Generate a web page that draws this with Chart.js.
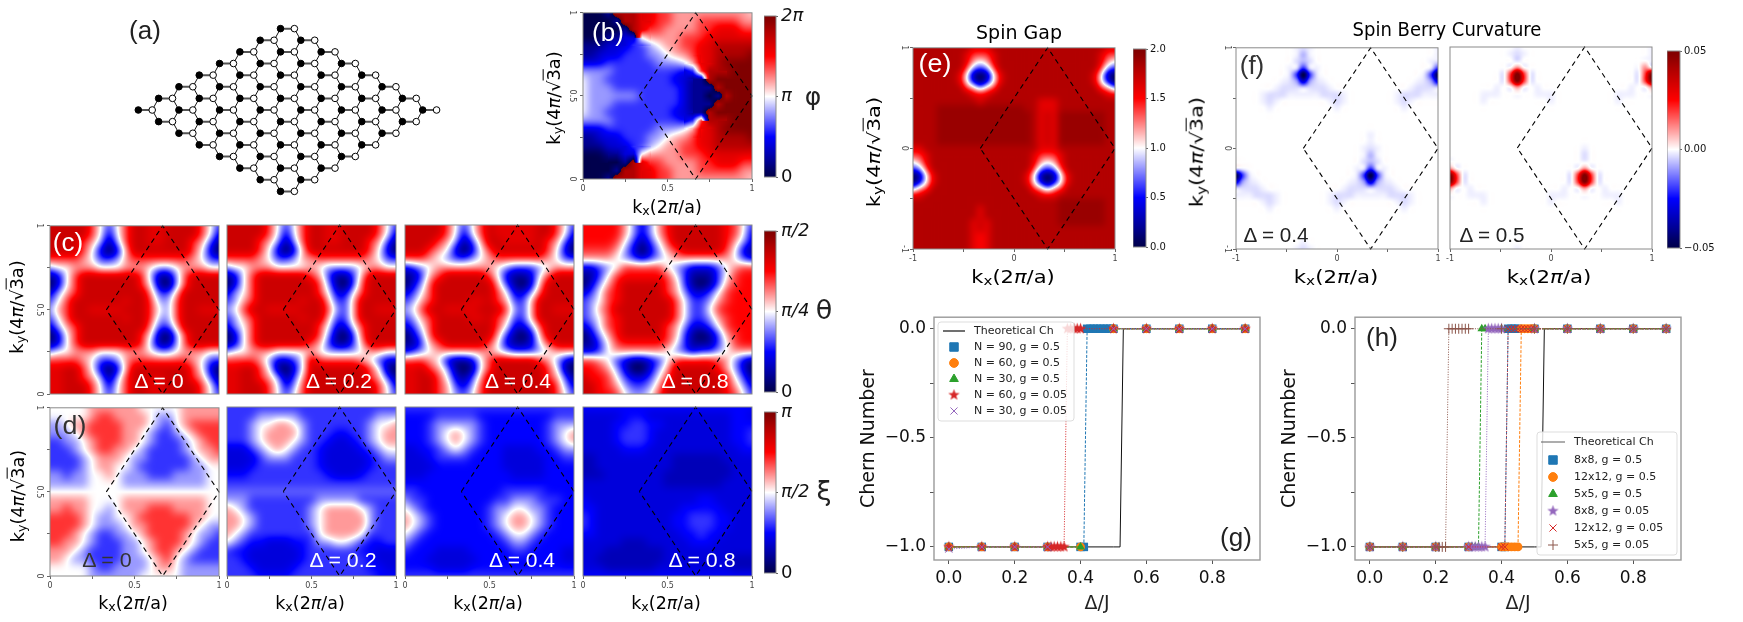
<!DOCTYPE html>
<html><head><meta charset="utf-8">
<script src="https://cdn.jsdelivr.net/npm/chart.js@4"></script>
<style>
html,body{margin:0;background:#fff}
#page{position:relative;width:1743px;height:622px;overflow:hidden;background:#fff}
canvas{position:absolute}
.t{position:absolute;white-space:nowrap;line-height:1.1;font-family:'DejaVu Sans'}
.t sub{font-size:72%;vertical-align:-.22em;line-height:0}
.t i{font-style:italic}
.o{text-decoration:overline}
</style></head><body><div id="page"></div>
<script>
// ---------- DATA: heat maps, rows run from the top of each panel; 0..9,a = colour level, A..J = half levels, . - ~ = near white
const gridB=["00019998877666666666F","000019988776667777766","000001987766667788877","000112256666777888888","111222334566778899999","11222333445667889999a","22233333344456889aaaa","444433333333237999aaa","5443333333322119aaaaa","54443333333321119aaaa","544444433333211019aaa","54443333333321119aaaa","5443333333322119aaaaa","444433333333237999aaa","22233333344456889aaaa","11222333445667889999a","111222334566778899999","000112256666777888888","000001987766667788877","000019988776667777766","00019998877666666666F"];
const gridC0=["IIIII75357II88IIII753","IIIII75257II88IIII752","IIII764147II88III7631","IIII752026IIIIIII7520","777765334677777776533","455666555666544566655","1257IIIIIII741147IIII","0257IIIIIII751047IIII","2467IIIIIIII6336IIIII","357IIIIII8II7447IIIII","467II8888III7547II888","357IIIIII8II7447IIIII","2467IIIIIIII6336IIIII","0257IIIIIII751047IIII","1257IIIIIII741147IIII","455666555666544566655","777765334677777776533","88II752026IIIIIII7520","88II764147II88III7631","88III75257II88IIII752","88III75357II88IIII753"];
const gridC1=["IIIII75357II88IIII753","IIIII75257II88IIII752","IIII764147II88III7631","IIII752026IIIIIII7520","777765334667777776533","455666555565444456655","1257IIIIII7631136IIII","0257IIIIIII741037IIII","2457IIIIIII752257IIII","3467IIIII8II6336IIIII","457II8888III7436II888","3467IIIII8II6336IIIII","2457IIIIIII752257IIII","0257IIIIIII741037IIII","1257IIIIII7631136IIII","455666555565444456655","7777642235I7777765322","88II751025IIIIIII7510","88II764136IIIIIII7631","88III75247IIIIIIII752","88III75357IIIIIIII753"];
const gridC2=["IIIII75357I88888II753","IIIII75257I88888II752","IIII764136II8888I7631","III76520257IIIIII7520","777654334567777776533","234566666665433345666","11367IIIII75211257III","0247IIIIIII631026IIII","2357IIIIIII752247IIII","3467IIII88I76336IIIII","457II8888III7436II888","3467IIII88I76336IIIII","2357IIIIIII752247IIII","0247IIIIIII631026IIII","11367IIIII75211257III","234566666665433345666","77765211257IIIII76421","88I76410157IIIIII7510","88II752136IIIIIII7631","88II763247IIIIIIII742","88II764357IIIIIIII753"];
const gridC3=["HHHHH64246HIIIIIIH753","HHHHH64246HIIIIIIH752","HHHH7531357IIIIIIH642","777764202467IIIII7521","666654323456666666532","223457777754322235677","11357HHHHH753111357HH","0246HIIIII763101367HH","2357HIIIII76422357HHH","3457HIIIIII7533467HHH","3467IIIIIII753357HHHH","3457HIIIIII7533467HHH","2357HIIIII76422357HHH","0246HIIIII763101367HH","11357HHHHH753111357HH","223566666654323345666","776532112357HHHH76421","HH764200246IIIIIH6420","IHH75322357IIIIIIH531","IIH7643346IIIIIIIH642","IIHH754457IIIIIIIH753"];
const gridD0=["555556666665555566666","555556776666544566666","445667777666543567777","444567777665433456777","334456777665433345677","333456776654333345667","333345666544333334566","333345665543333334455","443445565444333444455","444445555444444444455","555555555555555555555","666665555666666666655","667665545666777666655","777765445567777776655","777765444566777776544","777654334456777765443","776654333445677765433","666543333445677654333","665443333444567543333","555554334444566544444","555554444445555544444"];
const gridD1=["333333333333333333333","333344444333333333444","333455665433333334556","3334566664333CC334566","333456665433C22C34566","22234565433C2222C3455","22223444333C22222C344","222C3333333C22222C333","CCC333333333C222C3333","333333333333333333333","DDDDDDDDDDDDDDDDDDDDD","444333333334444433333","654333333345666654333","665433333345666664333","665433333345666664333","654333333335666653333","543CC222CC3445543CC33","3CC222222C333333CC222","33C222222C3333333C222","333C2222C33333333CC22","3333CCCC3333333333CCC"];
const gridD2=["333333333333333333333","CCCC33333CCCCCCCCC333","CCC3444443CCCCCCC3444","CCC3456543CCCCCCC3456","CCC3456543CCCCCCC3456","22CC34543CCC2222CC344","222C3333CCCC22222CC33","2222CCCCCCCC22222CCCC","222CCCCCCCCCC2222CCCC","CCCCCCCCCCCCCCCCCCCCC","33CCCCCCCCCC33333CCCC","433CCCCCCCC33444333CC","543CCCCCCC34455443CCC","6543CCCCCC34566543CCC","6543CCCCCC34566543CCC","543CCCCCCCC345543CCCC","43CCCCCCCCCC3443CCCCC","3CCC2222CCCCC33CCCC22","CCC222222CCCCCCCCCC22","CCCC2222CCCCCCCCCCCCC","333333333333333333333"];
const gridD3=["CCCCCCCCCCCCCCCCCCCCC","22222CCC2222222222CC2","2222CC33CC22222222CCC","2222C333C222222222CC3","2222C333C222222222CC3","22222CCC22222222222CC","BB222222222BBBBBB2222","BB222222222BBBBBBB222","BBB2222222BBBBBBBB222","2222222222BBBBBBB2222","222222222222222222222","C2222222222222CC22222","CC2222222222CCCCC2222","3C222222222CC333CC222","3C222222222CC333CC222","CC2222222222CC3CC2222","22222BBB22222CCC22222","222BBBBBBB22222222222","22BBBBBBBB22222222BBB","222BBBBBB222222222BBB","CCCCCCCCCCCCCCCCCCCCC"];
const gridE=[
"999999999"+"888"+"99999999999999999"+"88",
"99999999"+"87778"+"999999999999999"+"877",
"99999999"+"86568"+"999999999999999"+"865",
"99999999"+"74347"+"999999999999999"+"743",
"9999999"+"8510158"+"9999999999999"+"8510",
"9999999"+"8520258"+"9999999999999"+"8520",
"99999999"+"76467"+"999999999999999"+"764",
"999999999"+"888"+"99999999999999999"+"88",
"9999999999"+"8"+"99999999"+"888"+"999999999",
"9999"+"JJJJJJJJJJJJJ"+"99"+"888"+"999999999",
"9999"+"JJJJJJJJJJJJJJ"+"9"+"8I8"+"JJJJJJJ"+"99",
"9999"+"JJJJJJJJJJJJJJ"+"9"+"8I8"+"JJJJJJJ"+"99",
"9999"+"JJJJJJJJJJJJJJ"+"9"+"8I8"+"JJJJJJJ"+"99",
"9999"+"JJJJJJJJJJJJJJ"+"9"+"8I8"+"JJJJJJJ"+"99",
"9999"+"JJJJJJJJJJJJJJ"+"9"+"8I8"+"JJJJJJJ"+"99",
"88"+"99999999999999999"+"888"+"999999999",
"778"+"999999999999999"+"87778"+"99999999",
"568"+"999999999999999"+"86568"+"99999999",
"347"+"999999999999999"+"74347"+"99999999",
"0158"+"9999999999999"+"8510158"+"9999999",
"0258"+"9999999999999"+"8520258"+"9999999",
"467"+"999999999999999"+"76467"+"99999999",
"88"+"99999999999999999"+"888"+"999999999",
"9999999999999999999999"+"JJJJJJJ"+"99",
"999999999"+"989"+"9999999999"+"JJJJJJJ"+"99",
"999999999"+"989"+"9999999999"+"JJJJJJJ"+"99",
"999999999"+"8I8"+"9999999999"+"JJJJJJJ"+"99",
"999999999"+"8I8"+"9999999999999999999",
"999999999"+"8H8"+"9999999999999999999",
"999999999"+"8H8"+"9999999999999999999",
"999999999"+"8H8"+"9999999999999999999"];
const gridF0=[
"........."+"-~-"+".................."+"-",
"........."+"-=-"+".................."+"-",
"........."+"~=~"+"................."+"-~",
"........"+"-~3~-"+"................"+"~3",
"........"+"~303~"+"..............."+"~30",
"......."+"-~424~-"+"............."+"-~42",
"......"+"-~~~~~~~-"+"..........."+"-~~~~",
"...."+"-~~~-----~~~-"+"......."+"-~~~---",
"...."+"-~-"+"......."+"-~-"+"......."+"-~-"+"....",
"....."+"-"+"........."+"-"+"........."+"-"+".....",
"...............................",
"...............................",
"...............................",
"...................."+"-"+"..........",
"...................."+"-"+"..........",
"..................."+"-~-"+".........",
"..................."+"-=-"+".........",
"..................."+"~=~"+".........",
"~-"+"................"+"-~3~-"+"........",
"03~"+"..............."+"~303~"+"........",
"24~-"+"............."+"-~424~-"+".......",
"~~~~-"+"..........."+"-~~~~~~~-"+"......",
"---~~~-"+"......."+"-~~~-----~~~-"+"....",
"...."+"-~-"+"......."+"-~-"+"......."+"-~-"+"....",
"....."+"-"+"........."+"-"+"........."+"-"+".....",
"...............................",
"...............................",
"...............................",
"...............................",
".........."+"-"+"....................",
"........."+"-~-"+"..................."];
const gridF1=[
".........."+"-"+"..................."+"-",
"........."+"-~-"+".................."+"-",
".........."+"~"+"...................-",
"........."+"565"+"................."+"65",
"........"+"-7a7-"+"..............."+"-7a",
"........"+"-7a7-"+"..............."+"-7a",
"......."+"-"+".565."+"-"+"............."+"-.56",
"....."+"---"+"....."+"---"+"........."+"---"+"...",
"....."+"-"+"........."+"-"+"........."+"-"+".....",
"...............................",
"...............................",
"...............................",
"...............................",
"...............................",
"...............................",
"...................."+"-"+"..........",
"...................."+"~"+"..........",
"...................."+"-"+"..........",
"65"+"................."+"565"+".........",
"a7-"+"..............."+"-7a7-"+"........",
"a7-"+"..............."+"-7a7-"+"........",
"65."+"-"+"............."+"-.565.-"+".......",
"..."+"---"+"........."+"---"+"....."+"---"+".....",
"....."+"-"+"........."+"-"+"........."+"-"+".....",
"...............................",
"...............................",
"...............................",
"...............................",
"...............................",
"...............................",
".........."+"-"+"...................."];
const cbarLevels=["aa","99","88","77","66","55","44","33","22","11","00"];
// rhombus corners (Brillouin zone)
const bzUnitX=[1/3,2/3,1,2/3,1/3], bzUnitY=[0.5,1,0.5,0,0.5];
const bzWideX=[-1/3,1/3,1,1/3,-1/3], bzWideY=[0,1,0,-1,0];
// tick values and labels
const unitTicks=[0,.25,.5,.75,1], unitLabels=['0','','0.5','','1'];
const wideTicks=[-1,-.5,0,.5,1], wideLabels=['-1','','0','','1'];
const phiTicks=[0,1,2], phiLabels=['0','π','2π'];
const thetaTicks=[0,1,2], thetaLabels=['0','π/4','π/2'];
const xiTicks=[0,1,2], xiLabels=['0','π/2','π'];
const gapTicks=[0,.5,1,1.5,2], gapLabels=['0.0','0.5','1.0','1.5','2.0'];
const berryTicks=[-.05,0,.05], berryLabels=['−0.05','0.00','0.05'];
const chernXTicks=[0,.2,.4,.6,.8], chernXLabels=['0.0','0.2','0.4','0.6','0.8'];
const chernYTicks=[-1,-.75,-.5,-.25,0], chernYLabels=['−1.0','','−0.5','','0.0'];
// Chern number series (null = no line across the gap)
const theoX=[0,.1,.2,.3,.4,.5,.52,.53,.6,.7,.8,.9], theoY=[-1,-1,-1,-1,-1,-1,-1,0,0,0,0,0];
const gBlueX=[0,.1,.2,.3,.4,.41,.42,.43,.44,.45,.46,.47,.48,.49,.5,.6,.7,.8,.9], gBlueY=[-1,-1,-1,-1,-1,-1,0,0,0,0,0,0,0,0,0,0,0,0,0];
const gOrangeX=[0,.1,.2,.3,.4,.45,.5,.6,.7,.8,.9], gOrangeY=[-1,-1,-1,-1,-1,null,0,0,0,0,0];
const gGreenX=[0,.1,.2,.3,.4,.45,.5,.6,.7,.8,.9], gGreenY=[-1,-1,-1,-1,-1,null,0,0,0,0,0];
const gRedX=[0,.1,.2,.3,.31,.32,.33,.34,.35,.36,.37,.38,.39,.4,.5,.6,.7,.8,.9], gRedY=[-1,-1,-1,-1,-1,-1,-1,-1,-1,0,0,0,0,0,0,0,0,0,0];
const gPurpleX=[0,.1,.2,.3,.4,.5,.6,.7,.8,.9], gPurpleY=[-1.01,-1,-1,-1,null,0,0,0,0,0];
const hBlueX=[0,.1,.2,.3,.4,.41,.42,.43,.44,.45,.5,.6,.7,.8,.9], hBlueY=[-1,-1,-1,-1,-1,-1,0,0,0,0,0,0,0,0,0];
const hOrangeX=[0,.1,.2,.3,.4,.41,.42,.43,.44,.45,.46,.47,.48,.49,.5,.6,.7,.8,.9], hOrangeY=[-1,-1,-1,-1,-1,-1,-1,-1,-1,-1,0,0,0,0,0,0,0,0,0];
const hGreenX=[0,.1,.2,.3,.31,.32,.33,.34,.35,.4,.5,.6,.7,.8,.9], hGreenY=[-1,-1,-1,-1,-1,-1,-1,0,0,0,0,0,0,0,0];
const hPurpleX=[0,.1,.2,.3,.31,.32,.33,.34,.35,.36,.37,.38,.39,.4,.5,.6,.7,.8,.9], hPurpleY=[-1,-1,-1,-1,-1,-1,-1,-1,-1,0,0,0,0,0,0,0,0,0,0];
const hRedX=[0,.1,.2,.3,.4,.41,.42,.43,.44,.45,.46,.47,.48,.49,.5,.6,.7,.8,.9], hRedY=[-1,-1,-1,-1,-1,-1,0,0,0,0,0,0,0,0,0,0,0,0,0];
const hBrownX=[0,.1,.2,.21,.22,.23,.24,.25,.26,.27,.28,.29,.3,.4,.5,.6,.7,.8,.9], hBrownY=[-1,-1,-1,-1,-1,-1,0,0,0,0,0,0,0,0,0,0,0,0,0];
// honeycomb flake: unit-cell indices along the two lattice directions
const latticeCells=[0,1,2,3,4,5,6,7];
const whiteOffset=0.684;

// ---------- helpers
const FONT="'DejaVu Sans'";
const page=document.getElementById('page');
const LEV={a:10,A:.5,B:1.5,C:2.5,D:3.5,E:4.5,F:5.5,G:6.5,H:7.5,I:8.5,J:9.5,'.':5,'-':4.86,'~':4.68,'=':4.3};
for(let d=0;d<10;d++)LEV[d]=d;
function seismic(v){
  const t=Math.max(0,Math.min(10,v))/2.5;
  const st=[[0,0,76.5],[0,0,255],[255,255,255],[255,0,0],[127.5,0,0]];
  const k=Math.min(3,Math.floor(t)),f=t-k;
  return st[k].map((c,i)=>c+(st[k+1][i]-c)*f);
}
function cr(a,b,c,d,t){return b+.5*t*(c-a+t*(2*a-5*b+4*c-d+t*(3*(b-c)+d-a)));}
function bs(a,b,c,d,t){const u=1-t;return (u*u*u*a+(3*t*t*t-6*t*t+4)*b+(-3*t*t*t+3*t*t+3*t+1)*c+t*t*t*d)/6;}
const heatPlugin={id:'heat',beforeDatasetsDraw(chart){
  const ds=chart.data.datasets[0]; if(!ds.heatCols) return;
  const nx=ds.heatCols,ny=ds.heatRows,d=ds.data,{left,top,right,bottom}=chart.chartArea;
  const W=Math.round(right-left),H=Math.round(bottom-top),off=document.createElement('canvas');
  off.width=W;off.height=H;const oc=off.getContext('2d'),img=oc.createImageData(W,H);
  const sx=chart.scales.x,sy=chart.scales.y,x0=d[0].x,x1=d[nx-1].x,y0=d[0].y,y1=d[(ny-1)*nx].y;
  const g=(j,i)=>d[Math.max(0,Math.min(ny-1,j))*nx+Math.max(0,Math.min(nx-1,i))].v;
  const kern=ds.heatSharp?cr:bs;
  for(let py=0;py<H;py++){const fy=(sy.getValueForPixel(top+py+.5)-y0)/(y1-y0)*(ny-1);
    for(let px=0;px<W;px++){const fx=(sx.getValueForPixel(left+px+.5)-x0)/(x1-x0)*(nx-1);
      const i=Math.floor(fx),j=Math.floor(fy),tx=fx-i,ty=fy-j;let v,lo=99,hi=-99;
      if(ds.heatWrap){for(let m=-1;m<3;m++)for(let n=-1;n<3;n++){const q=g(j+m,i+n);lo=Math.min(lo,q);hi=Math.max(hi,q);}}
      if(ds.heatWrap&&hi-lo>6){
        const q4=[g(j,i),g(j,i+1),g(j+1,i),g(j+1,i+1)].map((q,n,arr)=>{let u=q;const r=arr[0];if(u-r>6)u-=10;else if(r-u>6)u+=10;return u;});
        v=(q4[0]*(1-tx)+q4[1]*tx)*(1-ty)+(q4[2]*(1-tx)+q4[3]*tx)*ty;
        if(v>10)v-=10;else if(v<0)v+=10;
      }else{
        const r=[];for(let m=-1;m<3;m++)r.push(kern(g(j+m,i-1),g(j+m,i),g(j+m,i+1),g(j+m,i+2),tx));
        v=kern(r[0],r[1],r[2],r[3],ty);
      }
      const c=seismic(v),p=(py*W+px)*4;img.data[p]=c[0];img.data[p+1]=c[1];img.data[p+2]=c[2];img.data[p+3]=255;
    }}
  oc.putImageData(img,0,0);chart.ctx.drawImage(off,left,top);
}};
const framePlugin={id:'frame',afterDraw(chart){
  const o=chart.options.plugins.frame; if(!o||!o.color) return;const {left,top,right,bottom}=chart.chartArea,c=chart.ctx;
  c.save();c.strokeStyle=o.color;c.lineWidth=o.width;c.strokeRect(left,top,right-left,bottom-top);c.restore();
}};
const insetLegend={id:'insetLegend',afterDatasetsDraw(chart){
  const o=chart.options.plugins.insetLegend; if(!o||!o.rows) return;const c=chart.ctx,ox=chart.canvas.offsetLeft,oy=chart.canvas.offsetTop;
  c.save();c.translate(-ox,-oy);
  c.fillStyle='rgba(255,255,255,.82)';c.strokeStyle='#ddd';c.lineWidth=1;
  c.beginPath();c.roundRect(o.x0,o.y0,o.x1-o.x0,o.y1-o.y0,3);c.fill();c.stroke();
  c.font='11px '+FONT;c.textBaseline='middle';
  chart.data.datasets.forEach((ds,n)=>{const y=o.rows[n];
    if(n===0){c.strokeStyle=o.lineColor;c.lineWidth=1.2;c.beginPath();c.moveTo(o.lx0,y);c.lineTo(o.lx1,y);c.stroke();}
    else{c.fillStyle=ds.pointBackgroundColor;c.strokeStyle=ds.pointBorderColor;c.lineWidth=1;
      Chart.helpers.drawPoint(c,{pointStyle:ds.pointStyle,radius:ds.pointRadius,rotation:0,borderWidth:1},(o.lx0+o.lx1)/2,y);}
    c.fillStyle='#222';c.fillText(ds.label,o.tx,y+.5);
  });
  c.restore();
}};
Chart.register(heatPlugin,framePlugin,insetLegend);
Chart.defaults.font.family=FONT;
function canvasAt(l,t,w,h){const c=document.createElement('canvas');c.width=w;c.height=h;c.style.left=l+'px';c.style.top=t+'px';c.style.width=w+'px';c.style.height=h+'px';page.appendChild(c);return c;}
function heatSet(rows,xr,yr,wrap,sharp){
  const grid=rows.map(r=>[...r].map(ch=>LEV[ch])),nx=rows[0].length,ny=rows.length,data=[];
  grid.forEach((r,j)=>{for(let i=0;i<nx;i++)data.push({x:xr[0]+(xr[1]-xr[0])*i/(nx-1),y:yr[1]-(yr[1]-yr[0])*j/(ny-1),v:r[Math.min(i,r.length-1)]});});
  return {type:'scatter',data,heatCols:nx,heatRows:ny,heatWrap:!!wrap,heatSharp:!!sharp,pointRadius:0,showLine:false};
}
function tickAxis(vals,labs,extra){return Object.assign({type:'linear',border:{display:false},
  grid:{drawOnChartArea:false,tickLength:3,tickColor:'#666',tickWidth:1},
  afterBuildTicks:a=>{a.ticks=vals.map(v=>({value:v}));},
  ticks:{autoSkip:false,padding:2,font:{size:8,family:FONT},color:'#444',callback:(v,i)=>labs[i]}},extra);}
function heatChart(o){
  const mL=30,mB=22,mT=6,mR=10,wd=o.r-o.l,ht=o.b-o.t;
  const xa=o.xLabels?tickAxis(o.xTicks,o.xLabels,{min:o.xr[0],max:o.xr[1],afterFit:s=>{s.height=mB;}}):{type:'linear',min:o.xr[0],max:o.xr[1],display:false};
  if(o.xLabels){xa.ticks.minRotation=0;xa.ticks.maxRotation=0;}
  const ya=o.yLabels?tickAxis(o.yTicks,o.yLabels,{min:o.yr[0],max:o.yr[1],afterFit:s=>{s.width=mL;}}):{type:'linear',min:o.yr[0],max:o.yr[1],display:false};
  if(o.yLabels){ya.ticks.minRotation=-90;ya.ticks.maxRotation=-90;ya.ticks.crossAlign='center';}
  new Chart(canvasAt(o.l-mL,o.t-mT,wd+mL+mR,ht+mT+mB),{type:'scatter',
    data:{datasets:[heatSet(o.rows,o.xr,o.yr,o.wrap,o.sharp),
      {type:'scatter',data:o.bzX.map((x,i)=>({x,y:o.bzY[i]})),showLine:true,pointRadius:0,borderColor:'#000',borderWidth:1.1,borderDash:[5,4],clip:false}]},
    options:{responsive:false,animation:false,devicePixelRatio:1,events:[],
      layout:{padding:{top:mT,right:mR,left:o.yLabels?0:mL,bottom:o.xLabels?0:mB}},
      scales:{x:xa,y:ya},
      plugins:{legend:{display:false},tooltip:{enabled:false},frame:{color:'#8a8a8a',width:1}}}});
}
function cbar(o){
  const mR=60,mT=14,mB=14,wd=o.r-o.l,ht=o.b-o.t;
  const ya=tickAxis(o.ticks,o.labels,{position:'right',min:o.range[0],max:o.range[1],afterFit:s=>{s.width=mR;}});
  ya.ticks.font=o.font;ya.ticks.color='#111';ya.ticks.padding=o.pad;ya.grid.tickLength=2;
  new Chart(canvasAt(o.l,o.t-mT,wd+mR,ht+mT+mB),{type:'scatter',
    data:{datasets:[heatSet(cbarLevels,[0,1],o.range,false,true)]},
    options:{responsive:false,animation:false,devicePixelRatio:1,events:[],
      layout:{padding:{top:mT,right:0,left:0,bottom:mB}},
      scales:{x:{type:'linear',min:0,max:1,display:false},y:ya},
      plugins:{legend:{display:false},tooltip:{enabled:false},frame:{color:'#8a8a8a',width:1}}}});
}
function starImage(color){
  const c=document.createElement('canvas');c.width=c.height=13;const x=c.getContext('2d');x.fillStyle=color;x.beginPath();
  for(let k=0;k<10;k++){const r=k%2?2.4:6,a=-Math.PI/2+k*Math.PI/5;x.lineTo(6.5+r*Math.cos(a),6.5+r*Math.sin(a));}
  x.closePath();x.fill();return c;
}
function series(label,xs,ys,color,style,radius,dash,order,filled=true){
  return {type:'scatter',label,data:xs.map((x,i)=>({x,y:ys[i]})),showLine:true,spanGaps:false,borderColor:color,borderWidth:1,borderDash:dash,
    pointStyle:style,pointRadius:radius,pointBackgroundColor:filled?color:'rgba(0,0,0,0)',pointBorderColor:color,pointBorderWidth:filled?0:1,order,clip:false};
}
function chernChart(o){
  const mL=76,mB=60,mT=14,mR=18;
  const xa=tickAxis(chernXTicks,chernXLabels,{min:-.045,max:.945,afterFit:s=>{s.height=mB;},
    title:{display:true,text:'Δ/J',font:{size:19,family:FONT},color:'#222',padding:{top:0,bottom:5}}});
  const ya=tickAxis(chernYTicks,chernYLabels,{min:-1.06,max:.053,afterFit:s=>{s.width=mL;},
    title:{display:true,text:'Chern Number',font:{size:19,family:FONT},color:'#111',padding:{top:0,bottom:0}}});
  [xa,ya].forEach(a=>{a.ticks.font={size:17,family:FONT};a.ticks.color='#111';a.ticks.padding=4;a.grid.tickLength=4;a.grid.tickColor='#555';});
  xa.ticks.minRotation=0;xa.ticks.maxRotation=0;
  new Chart(canvasAt(o.l-mL,o.t-mT,o.r-o.l+mL+mR,o.b-o.t+mT+mB),{type:'scatter',data:{datasets:o.sets},
    options:{responsive:false,animation:false,devicePixelRatio:1,events:[],
      layout:{padding:{top:mT,right:mR,left:0,bottom:0}},scales:{x:xa,y:ya},
      plugins:{legend:{display:false},tooltip:{enabled:false},frame:{color:'#9a9a9a',width:1.4},insetLegend:o.legend}}});
}
function lab(html,cx,cy,o={}){
  const s=document.createElement('div');s.className='t';s.innerHTML=html;
  s.style.fontSize=(o.size||17)+'px';s.style.left=cx+'px';s.style.top=cy+'px';
  if(o.color)s.style.color=o.color;if(o.font)s.style.fontFamily=o.font;
  page.appendChild(s);
  const sc=o.w?o.w/s.offsetWidth:1;
  s.style.transform=`translate(-50%,-50%) rotate(${o.rot||0}deg) scaleX(${sc})`;
}

// ---------- panel (a): the lattice
(function(){
  const blacks=[],whites=[],inner=[],cross=[];
  latticeCells.forEach(i=>latticeCells.forEach(j=>{
    const x=i+j,y=i-j;blacks.push({x,y});whites.push({x:x+whiteOffset,y});
    inner.push({x,y},{x:x+whiteOffset,y},{x:null,y:null});
    if(i<7)cross.push({x:x+whiteOffset,y},{x:x+1,y:y+1},{x:null,y:null});
    if(j<7)cross.push({x:x+whiteOffset,y},{x:x+1,y:y-1},{x:null,y:null});
  }));
  new Chart(canvasAt(113,12,335,196),{type:'scatter',data:{datasets:[
    {data:cross,showLine:true,pointRadius:0,borderColor:'#111',borderWidth:1,spanGaps:false,order:4},
    {data:inner,showLine:true,pointRadius:0,borderColor:'#555',borderWidth:2,spanGaps:false,order:3},
    {data:blacks,pointRadius:3.3,pointBackgroundColor:'#000',pointBorderColor:'#000',pointBorderWidth:1,order:2},
    {data:whites,pointRadius:3.3,pointBackgroundColor:'#fff',pointBorderColor:'#000',pointBorderWidth:1,order:1}]},
    options:{responsive:false,animation:false,devicePixelRatio:1,events:[],
      scales:{x:{type:'linear',min:-1,max:15,display:false},y:{type:'linear',min:-8,max:8,display:false}},
      plugins:{legend:{display:false},tooltip:{enabled:false}}}});
})();

// ---------- heat panels
const U=[0,1],W2=[-1,1];
heatChart({l:583,t:12,r:752,b:179,rows:gridB,wrap:true,xr:U,yr:U,bzX:bzUnitX,bzY:bzUnitY,xTicks:unitTicks,xLabels:unitLabels,yTicks:unitTicks,yLabels:unitLabels});
const cols=[[50,219],[227,396],[405,574],[583,752]];
[gridC0,gridC1,gridC2,gridC3].forEach((g,n)=>heatChart({l:cols[n][0],r:cols[n][1],t:225,b:394,rows:g,xr:U,yr:U,bzX:bzUnitX,bzY:bzUnitY,yTicks:unitTicks,yLabels:n?null:unitLabels}));
[gridD0,gridD1,gridD2,gridD3].forEach((g,n)=>heatChart({l:cols[n][0],r:cols[n][1],t:407,b:576,rows:g,xr:U,yr:U,bzX:bzUnitX,bzY:bzUnitY,xTicks:unitTicks,xLabels:unitLabels,yTicks:unitTicks,yLabels:n?null:unitLabels}));
heatChart({l:913,t:47,r:1115,b:249,rows:gridE,xr:W2,yr:W2,bzX:bzWideX,bzY:bzWideY,xTicks:wideTicks,xLabels:wideLabels,yTicks:wideTicks,yLabels:wideLabels});
heatChart({l:1236,t:47,r:1438,b:249,rows:gridF0,sharp:true,xr:W2,yr:W2,bzX:bzWideX,bzY:bzWideY,xTicks:wideTicks,xLabels:wideLabels,yTicks:wideTicks,yLabels:wideLabels});
heatChart({l:1450,t:47,r:1652,b:249,rows:gridF1,sharp:true,xr:W2,yr:W2,bzX:bzWideX,bzY:bzWideY,xTicks:wideTicks,xLabels:wideLabels});

// ---------- colour bars
const piFont=c=>({size:18,family:FONT,style:c.tick&&c.tick.label==='0'?'normal':'italic'});
const smallFont={size:10,family:FONT};
cbar({l:764,r:776,t:16,b:177,range:[0,2],ticks:phiTicks,labels:phiLabels,font:piFont,pad:3});
cbar({l:764,r:776,t:231,b:392,range:[0,2],ticks:thetaTicks,labels:thetaLabels,font:piFont,pad:3});
cbar({l:764,r:776,t:412,b:573,range:[0,2],ticks:xiTicks,labels:xiLabels,font:piFont,pad:3});
cbar({l:1133,r:1146,t:49,b:247,range:[0,2],ticks:gapTicks,labels:gapLabels,font:smallFont,pad:2});
cbar({l:1667,r:1680,t:51,b:248,range:[-.05,.05],ticks:berryTicks,labels:berryLabels,font:smallFont,pad:2});

// ---------- Chern number panels
const T10={blue:'#1f77b4',orange:'#ff7f0e',green:'#2ca02c',red:'#d62728',purple:'#9467bd',brown:'#8c564b'};
chernChart({l:934,r:1260,t:317,b:560,
  legend:{x0:938,x1:1074,y0:322,y1:421,rows:[331,347,363,379,395,411],lx0:943,lx1:965,tx:974,lineColor:'#111'},
  sets:[
   series('Theoretical Ch',theoX,theoY,'#111',false,0,[],10),
   series('N = 90, g = 0.5',gBlueX,gBlueY,T10.blue,'rect',6,[3,1.5],9),
   series('N = 60, g = 0.5',gOrangeX,gOrangeY,T10.orange,'circle',4.4,[3,1.5],8),
   series('N = 30, g = 0.5',gGreenX,gGreenY,T10.green,'triangle',5,[3,1.5],7),
   series('N = 60, g = 0.05',gRedX,gRedY,T10.red,starImage(T10.red),6,[1,1.5],6),
   series('N = 30, g = 0.05',gPurpleX,gPurpleY,T10.purple,'crossRot',5,[1,1.5],5,false)]});
chernChart({l:1355,r:1681,t:317,b:560,
  legend:{x0:1537,x1:1677,y0:432,y1:555,rows:[442,460,477,494,511,528,545],lx0:1541,lx1:1565,tx:1574,lineColor:'#777'},
  sets:[
   series('Theoretical Ch',theoX,theoY,'#111',false,0,[],10),
   series('8x8, g = 0.5',hBlueX,hBlueY,T10.blue,'rect',6,[3,1.5],9),
   series('12x12, g = 0.5',hOrangeX,hOrangeY,T10.orange,'circle',4.4,[3,1.5],8),
   series('5x5, g = 0.5',hGreenX,hGreenY,T10.green,'triangle',5,[3,1.5],7),
   series('8x8, g = 0.05',hPurpleX,hPurpleY,T10.purple,starImage(T10.purple),6,[1,1.5],6),
   series('12x12, g = 0.05',hRedX,hRedY,T10.red,'crossRot',5,[1,1.5],5,false),
   series('5x5, g = 0.05',hBrownX,hBrownY,T10.brown,'cross',5,[1,1.5],4,false)]});

// ---------- text
const KX='k<sub>x</sub>(2<i>π</i>/a)', KY='k<sub>y</sub>(4<i>π</i>/√<span class="o">3</span>a)';
const SANS="'Liberation Sans'";
[132.5,310,488,666].forEach(x=>lab(KX,x,603,{w:70}));
lab(KX,666.5,207,{w:70});
lab(KX,1013,277,{w:84});lab(KX,1335.5,277,{w:85});lab(KX,1549,277,{w:85});
lab(KY,553.5,98,{w:93,rot:-90});lab(KY,17,307,{w:93,rot:-90});lab(KY,18,496,{w:92,rot:-90});
lab(KY,874,152,{w:110,rot:-90});lab(KY,1197,152,{w:110,rot:-90});
lab('Spin Gap',1019,32,{size:20,w:85.5});
lab('Spin Berry Curvature',1447,29,{size:20,w:189});
const L={size:26,font:SANS};
lab('(a)',145,30,{...L,w:32,color:'#222'});
lab('(b)',608,32,{...L,w:32,color:'#fff'});
lab('(c)',68,242,{...L,w:30,color:'#fff'});
lab('(d)',69.5,425,{...L,w:33,color:'#333'});
lab('(e)',935,63,{...L,w:33,color:'#fff'});
lab('(f)',1252,65,{...L,w:25,color:'#333'});
lab('(g)',1236,537,{...L,w:32,color:'#222'});
lab('(h)',1382,337,{...L,w:32,color:'#222'});
const DL={size:21,font:SANS};
[['Δ = 0',159,381,49,'#fff'],['Δ = 0.2',339,381,66,'#fff'],['Δ = 0.4',518,381,66,'#fff'],['Δ = 0.8',695,381,67,'#fff'],
 ['Δ = 0',107,560,49,'#333'],['Δ = 0.2',342.5,560,67,'#fff'],['Δ = 0.4',522,560,66,'#fff'],['Δ = 0.8',701.5,560,67,'#fff'],
 ['Δ = 0.4',1275.5,235,65,'#222'],['Δ = 0.5',1491.5,235,65,'#222']].forEach(d=>lab(d[0],d[1],d[2],{...DL,w:d[3],color:d[4]}));
lab('φ',813,97,{size:25,color:'#222'});lab('θ',824,310,{size:27,color:'#222'});lab('ξ',824,491,{size:27,color:'#222'});
</script></body></html>
